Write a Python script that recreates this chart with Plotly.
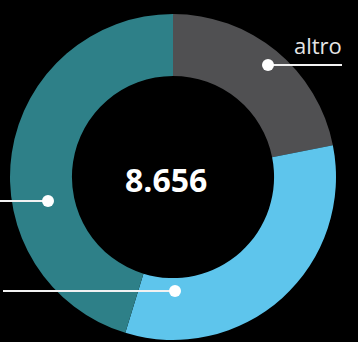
import plotly.graph_objects as go

# Donut segments, clockwise from 12 o'clock
labels = ["altro", "B", "A"]
values = [1893, 2844, 3919]
colors = ["#505052", "#5ec5ec", "#2e8088"]
total_label = "8.656"

W, H = 358, 342

def px(x, y):
    return x / W, 1 - y / H

fig = go.Figure(
    go.Pie(
        labels=labels,
        values=values,
        hole=0.62,
        sort=False,
        direction="clockwise",
        rotation=0,
        marker=dict(colors=colors, line=dict(width=0)),
        textinfo="none",
        hoverinfo="label+value",
        domain=dict(x=[10 / W, 336 / W], y=[2 / H, 328 / H]),
        showlegend=False,
    )
)

# Leader lines with end dots
leaders = [((268, 65), (342, 65)), ((48, 201), (0, 201)), ((175, 291), (3, 291))]
shapes = []
for (dx, dy), (ex, ey) in leaders:
    x0, y0 = px(dx, dy)
    x1, y1 = px(ex, ey)
    shapes.append(dict(type="line", xref="paper", yref="paper", x0=x0, y0=y0, x1=x1, y1=y1,
                       line=dict(color="#f2f2f2", width=2)))
    r = 6
    shapes.append(dict(type="circle", xref="paper", yref="paper",
                       x0=(dx - r) / W, x1=(dx + r) / W, y0=1 - (dy + r) / H, y1=1 - (dy - r) / H,
                       fillcolor="#ffffff", line=dict(width=0)))

cx, cy = px(166, 179)
ax, ay = px(344, 45)
fig.update_layout(
    width=W, height=H,
    margin=dict(l=0, r=0, t=0, b=0),
    paper_bgcolor="#000000", plot_bgcolor="#000000",
    shapes=shapes,
    annotations=[
        dict(text="<b>" + total_label + "</b>", x=cx, y=cy, xref="paper", yref="paper",
             showarrow=False, xanchor="center", yanchor="middle",
             font=dict(family="Open Sans", size=32, color="#ffffff")),
        dict(text=labels[0], x=ax, y=ay, xref="paper", yref="paper",
             showarrow=False, xanchor="right", yanchor="middle",
             font=dict(family="Open Sans", size=22, color="#e6e6e6")),
    ],
)

fig.write_html("out.html")
